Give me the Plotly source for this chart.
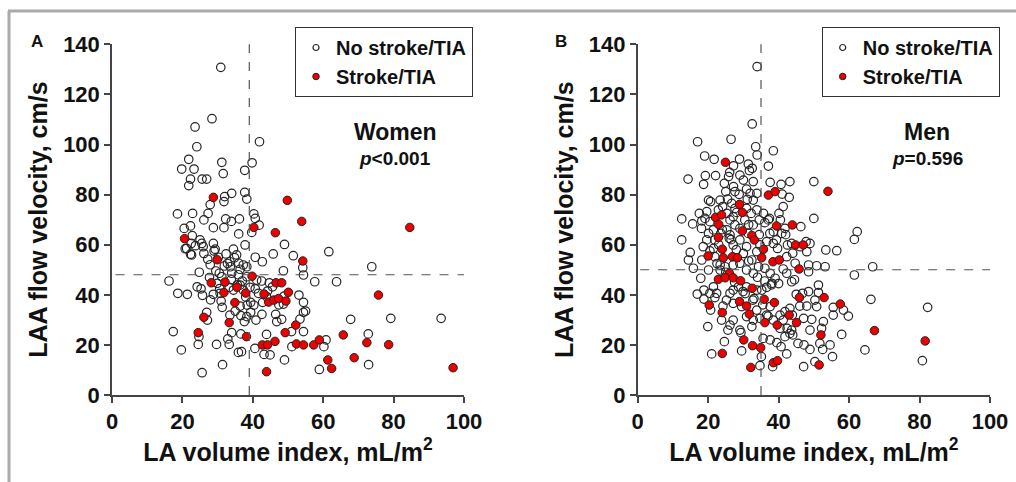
import plotly.graph_objects as go

# ---------------- Data ----------------
# Panel A: Women
women_none_x = [30.9, 28.4, 23.6, 24.1, 41.9, 21.8, 19.8, 23.3, 31.2, 39.8, 31.6, 37.7, 22.3, 21.8, 25.6, 26.9,
                32.0, 34.0, 37.7, 38.3, 31.8, 18.6, 22.9, 27.9, 27.3, 26.1, 32.3, 33.9, 36.2, 40.3, 40.7, 41.8,
                20.5, 22.3, 28.8, 31.8, 36.0, 39.7, 22.8, 25.0, 22.5, 20.8, 22.3, 23.7, 25.9, 28.8, 26.1, 29.3,
                27.2, 32.4, 34.5, 35.4, 37.8, 40.7, 42.7, 45.8, 49.0, 51.5, 61.6, 33.5, 36.0, 37.3, 38.3, 33.6,
                36.4, 30.5, 31.2, 34.0, 38.3, 41.1, 42.5, 44.7, 48.7, 54.2, 54.4, 57.6, 63.8, 73.8, 16.2, 18.7,
                21.4, 24.2, 25.3, 25.7, 27.7, 28.8, 29.9, 30.7, 33.3, 34.5, 36.4, 37.3, 39.2, 40.7, 41.6, 43.9,
                45.6, 53.1, 54.4, 38.0, 39.4, 38.4, 40.3, 31.3, 36.4, 33.5, 36.6, 39.4, 38.3, 42.6, 46.5, 48.7,
                53.4, 54.4, 55.0, 26.9, 27.1, 37.6, 40.9, 46.8, 48.2, 67.8, 79.2, 93.5, 17.4, 24.7, 24.5, 29.7,
                32.9, 33.3, 34.0, 36.6, 43.9, 51.0, 54.4, 51.1, 60.8, 60.2, 72.8, 19.7, 35.9, 36.8, 43.2, 49.0,
                31.4, 72.9, 58.9, 25.6, 40.6, 44.9, 21.2, 22.6, 25.5, 29.0, 30.2, 32.8, 34.8, 35.9, 37.0, 29.5,
                31.9, 33.9, 35.6, 24.8, 27.9, 30.6, 42.8, 44.2, 47.4, 48.9, 28.0, 31.0, 35.0]
women_none_y = [130.8, 110.3, 107.0, 99.1, 101.1, 94.1, 90.2, 90.2, 92.9, 92.7, 88.4, 89.7, 86.2, 83.6, 86.2, 86.2,
                79.2, 80.5, 80.9, 78.2, 77.2, 72.3, 72.5, 76.0, 72.5, 69.9, 70.3, 69.3, 70.3, 72.3, 70.5, 67.8,
                66.5, 67.5, 66.8, 66.8, 64.3, 64.9, 63.6, 61.9, 60.5, 58.4, 56.2, 59.6, 59.2, 60.5, 56.5, 58.2,
                54.2, 56.3, 58.2, 55.9, 59.9, 55.0, 53.2, 56.3, 60.1, 55.6, 57.2, 53.2, 52.6, 51.9, 51.2, 51.2,
                50.2, 48.6, 47.2, 48.6, 47.2, 45.9, 45.5, 44.8, 49.6, 50.8, 47.9, 45.2, 45.2, 51.2, 45.5, 40.6,
                40.2, 43.2, 42.4, 39.8, 46.9, 40.2, 44.6, 40.6, 43.0, 41.9, 43.9, 41.9, 43.0, 42.4, 40.6, 39.3,
                43.2, 39.9, 37.0, 39.1, 37.0, 35.9, 35.9, 35.0, 35.5, 31.9, 31.7, 33.0, 31.3, 32.2, 32.2, 36.3,
                30.3, 33.0, 33.5, 33.0, 29.9, 29.3, 29.9, 29.3, 30.2, 30.2, 30.6, 30.6, 25.3, 23.3, 20.2, 20.2,
                22.4, 20.2, 24.9, 24.4, 24.2, 25.3, 25.3, 19.3, 22.0, 19.3, 24.4, 18.0, 17.0, 17.3, 16.2, 14.0,
                12.1, 12.1, 10.2, 8.9, 18.6, 16.0, 58.5, 55.9, 60.5, 57.5, 55.0, 52.5, 54.8, 48.0, 45.5, 49.5,
                51.5, 46.0, 44.0, 49.0, 52.0, 42.5, 37.0, 41.5, 36.0, 39.5, 38.0, 37.5, 33.5]
women_stroke_x = [28.8, 49.8, 53.9, 40.3, 46.4, 84.6, 20.6, 29.9, 54.2, 39.8, 28.2, 32.1, 35.5, 46.6, 48.2, 31.8,
                  38.0, 43.2, 50.1, 75.7, 34.9, 44.5, 46.0, 47.3, 49.4, 26.1, 33.3, 52.2, 24.5, 49.2, 38.2, 65.7,
                  42.7, 44.2, 46.3, 52.4, 54.4, 57.3, 58.9, 72.4, 78.6, 61.3, 62.4, 68.8, 43.9, 96.9]
women_stroke_y = [78.9, 77.7, 69.3, 66.9, 64.8, 66.9, 62.4, 54.0, 53.5, 47.4, 44.8, 45.1, 43.0, 44.8, 44.8, 40.9,
                  40.7, 40.3, 41.0, 39.9, 36.9, 37.1, 37.9, 38.5, 37.5, 31.0, 28.9, 27.9, 24.9, 24.9, 23.3, 24.0,
                  20.0, 20.0, 21.4, 20.4, 20.0, 20.0, 22.0, 20.9, 20.1, 14.0, 10.6, 14.9, 9.3, 10.9]

# Panel B: Men
men_none_x = [33.9, 32.5, 17.0, 26.5, 33.5, 33.9, 38.5, 19.0, 21.7, 27.2, 28.9, 31.4, 32.5, 31.7, 37.1, 26.1,
              25.8, 22.1, 19.2, 14.3, 18.7, 24.6, 27.2, 25.0, 27.6, 30.9, 31.9, 37.6, 40.7, 43.2, 50.0, 41.0,
              43.0, 25.5, 28.8, 20.1, 20.7, 19.6, 26.7, 31.1, 28.1, 32.2, 41.3, 12.5, 15.6, 18.2, 20.5, 18.1,
              20.1, 26.2, 27.6, 34.5, 36.1, 37.4, 40.5, 41.8, 46.3, 50.0, 62.3, 61.5, 12.5, 14.9, 14.4, 15.8,
              17.9, 16.9, 18.8, 20.5, 18.8, 21.9, 20.7, 19.9, 24.2, 23.8, 26.2, 25.6, 24.6, 21.0, 29.3, 29.5,
              32.4, 35.6, 35.1, 34.7, 38.3, 37.6, 39.5, 40.7, 42.3, 41.8, 44.0, 43.7, 45.5, 47.2, 48.9, 47.1,
              50.3, 51.7, 52.5, 54.6, 55.3, 57.9, 64.5, 80.8, 82.3, 66.2, 59.8, 58.4, 55.5, 55.5, 52.7, 49.4,
              47.1, 48.9, 52.2, 48.0, 50.8, 50.3, 51.3, 51.3, 48.5, 46.8, 45.0, 43.2, 43.9, 41.3, 40.4, 43.2,
              42.4, 66.7, 61.5, 56.5, 53.4, 53.2, 50.8, 48.5, 48.5, 48.0, 48.9, 47.8, 46.1, 43.7, 42.5, 44.0,
              42.3, 44.7, 42.3, 43.7, 41.3, 39.7, 39.4, 37.5, 36.6, 34.7, 33.8, 32.4, 30.9, 29.0, 27.1, 26.2,
              25.3, 23.6, 21.9, 21.5, 21.9, 23.4, 23.4, 24.8, 27.1, 29.0, 30.9, 32.8, 34.3, 36.1, 37.6, 39.0,
              38.1, 36.6, 35.2, 33.8, 30.9, 29.9, 28.6, 27.1, 26.2, 25.2, 27.1, 29.5, 32.7, 33.8, 34.7, 32.8,
              37.6, 36.6, 38.5, 40.4, 41.8, 30.9, 29.0, 27.1, 21.5, 22.4, 20.1, 18.2, 18.6, 19.6, 21.5, 22.9,
              25.3, 27.1, 30.4, 32.8, 31.4, 30.9, 33.8, 35.7, 37.1, 38.5, 40.9, 40.1, 32.8, 30.0, 29.0, 32.8,
              33.8, 23.4, 24.1, 27.6, 17.5, 19.1, 24.0, 26.0, 28.0, 30.0, 31.5, 34.0, 36.0, 38.0, 22.5, 25.0,
              27.5, 30.5, 33.0, 35.5, 37.0, 40.0, 44.5, 46.0, 20.5, 23.0, 26.5, 29.0, 31.5, 34.5, 38.5, 42.0]
men_none_y = [131.1, 108.2, 101.1, 102.1, 99.1, 95.8, 97.5, 95.4, 94.1, 91.5, 94.2, 92.2, 90.5, 89.6, 91.4, 88.9,
              87.2, 87.6, 87.6, 86.2, 84.1, 84.5, 83.2, 81.2, 81.2, 82.2, 80.5, 84.9, 84.1, 85.2, 85.2, 80.2,
              78.9, 78.2, 80.1, 77.8, 77.2, 73.2, 76.5, 78.1, 72.9, 72.5, 75.2, 70.3, 68.3, 69.5, 69.2, 66.5,
              64.5, 69.9, 67.9, 69.9, 68.8, 70.5, 69.9, 66.5, 67.2, 70.5, 65.2, 62.1, 61.9, 56.9, 53.9, 50.6,
              46.6, 40.3, 41.9, 40.6, 38.3, 38.9, 33.9, 27.3, 35.5, 29.9, 27.9, 25.9, 21.3, 16.4, 24.9, 17.6,
              27.3, 22.6, 15.3, 11.7, 11.3, 22.0, 20.9, 19.3, 16.4, 23.3, 24.0, 25.9, 20.6, 20.0, 18.2, 11.3,
              13.3, 20.6, 18.2, 20.0, 15.3, 24.2, 18.0, 13.7, 35.0, 38.2, 31.5, 33.9, 35.0, 31.9, 29.3, 30.2,
              30.6, 25.9, 26.6, 35.5, 35.3, 37.9, 40.9, 43.9, 41.3, 40.6, 40.2, 34.6, 31.9, 29.9, 26.6, 24.6,
              26.6, 51.2, 47.9, 57.6, 57.9, 51.2, 51.6, 51.9, 49.2, 57.2, 60.5, 61.2, 59.2, 60.5, 59.9, 56.6,
              55.2, 52.6, 48.6, 45.2, 50.3, 58.5, 61.9, 64.5, 61.2, 59.9, 57.2, 53.9, 59.2, 61.9, 59.9, 63.9,
              65.9, 64.5, 61.9, 58.5, 55.2, 51.9, 49.9, 51.2, 51.9, 52.6, 49.9, 48.6, 51.2, 50.6, 48.6, 46.6,
              44.6, 43.0, 41.9, 41.9, 43.2, 41.3, 43.2, 41.9, 40.6, 37.9, 36.6, 35.3, 37.9, 33.9, 30.6, 29.9,
              35.3, 31.9, 29.9, 31.9, 33.3, 31.3, 25.9, 29.9, 43.2, 40.6, 49.9, 53.9, 59.2, 61.9, 65.9, 73.9,
              72.5, 71.2, 69.9, 67.9, 64.5, 74.5, 73.9, 72.5, 69.9, 65.2, 64.5, 72.5, 85.2, 85.8, 87.8, 77.8,
              80.5, 77.8, 75.2, 74.5, 72.5, 70.5, 66.0, 62.5, 58.0, 56.5, 53.5, 47.0, 45.5, 44.0, 52.5, 49.0,
              45.0, 40.5, 38.5, 36.0, 31.5, 44.5, 46.0, 35.5, 57.5, 60.0, 62.0, 66.5, 68.0, 64.0, 60.5, 64.0]
men_stroke_x = [24.9, 37.1, 39.0, 54.0, 28.9, 29.7, 22.1, 23.8, 23.0, 39.4, 43.9, 29.7, 32.4, 33.1, 22.9, 44.8,
                47.0, 35.7, 24.0, 20.0, 24.3, 26.9, 28.3, 35.2, 38.4, 40.2, 45.8, 26.0, 22.9, 24.8, 27.1, 29.2,
                32.5, 35.9, 38.8, 45.9, 52.9, 57.5, 20.3, 28.9, 30.9, 31.7, 24.0, 43.0, 36.1, 39.6, 45.1, 67.2,
                52.0, 30.1, 32.6, 34.9, 24.0, 81.6, 38.5, 39.7, 32.1, 51.5]
men_stroke_y = [92.9, 79.8, 81.2, 81.3, 76.1, 72.9, 70.9, 71.9, 68.1, 67.5, 67.9, 65.5, 63.7, 61.9, 62.9, 59.9,
                59.9, 58.2, 58.2, 55.5, 54.8, 55.2, 54.8, 54.8, 53.2, 53.9, 50.3, 48.6, 46.2, 46.8, 46.8, 45.6,
                42.6, 38.2, 36.9, 38.9, 38.9, 36.3, 35.9, 37.3, 35.5, 32.3, 32.9, 31.9, 28.9, 27.9, 28.9, 25.7,
                24.0, 22.0, 19.7, 18.9, 16.6, 21.6, 12.9, 13.7, 11.0, 12.0]

# Cut-off lines
women_cut_x, women_cut_y = 39.0, 48.0
men_cut_x, men_cut_y = 35.0, 50.0

x_ticks = [0, 20, 40, 60, 80, 100]
y_ticks = [0, 20, 40, 60, 80, 100, 120, 140]
legend_labels = ["No stroke/TIA", "Stroke/TIA"]

# ---------------- Styling ----------------
FONT = "Liberation Sans, Arial, Helvetica, sans-serif"
OPEN_COLOR = "#262626"
RED = "#ee0000"
AXIS_COLOR = "#444444"

fig = go.Figure()


def add_panel(xa, ya, nx, ny, sx, sy, legend):
    fig.add_trace(go.Scatter(x=nx, y=ny, mode="markers", xaxis=xa, yaxis=ya, showlegend=False,
                             marker=dict(symbol="circle-open", size=8.5, color=OPEN_COLOR,
                                         line=dict(width=1.2))))
    fig.add_trace(go.Scatter(x=sx, y=sy, mode="markers", xaxis=xa, yaxis=ya, showlegend=False,
                             marker=dict(symbol="circle", size=8.5, color=RED,
                                         line=dict(width=1, color="#222222"))))
    # legend entries (smaller markers as in the reference)
    fig.add_trace(go.Scatter(x=[None], y=[None], mode="markers", xaxis=xa, yaxis=ya,
                             name=legend_labels[0], legend=legend,
                             marker=dict(symbol="circle-open", size=6, color=OPEN_COLOR,
                                         line=dict(width=1.2))))
    fig.add_trace(go.Scatter(x=[None], y=[None], mode="markers", xaxis=xa, yaxis=ya,
                             name=legend_labels[1], legend=legend,
                             marker=dict(symbol="circle", size=6.5, color=RED,
                                         line=dict(width=1, color="#222222"))))


add_panel("x", "y", women_none_x, women_none_y, women_stroke_x, women_stroke_y, "legend")
add_panel("x2", "y2", men_none_x, men_none_y, men_stroke_x, men_stroke_y, "legend2")

axis_common = dict(
    showline=True, linecolor=AXIS_COLOR, linewidth=1.5,
    ticks="outside", ticklen=6, tickwidth=1.5, tickcolor=AXIS_COLOR,
    showgrid=False, zeroline=False, automargin=False,
    tickfont=dict(family=FONT, size=22, color="#111111", weight="bold"),
)
xtitle = dict(text="LA volume index, mL/m<sup>2</sup>",
              font=dict(family=FONT, size=25, color="#111111", weight="bold"), standoff=10)
ytitle = dict(text="LAA flow velocity, cm/s",
              font=dict(family=FONT, size=25, color="#111111", weight="bold"), standoff=8)

legend_style = dict(xanchor="left", yanchor="top", y=1 - 27 / 482,
                    bordercolor="#333333", borderwidth=1, bgcolor="white",
                    font=dict(family=FONT, size=20, color="#111111", weight="bold"),
                    itemwidth=30, tracegroupgap=0)

ydom = [1 - 395 / 482, 1 - 44.3 / 482]
fig.update_layout(
    width=1016, height=482,
    margin=dict(l=0, r=0, t=0, b=0, pad=0, autoexpand=False),
    paper_bgcolor="white", plot_bgcolor="white",
    font=dict(family=FONT, color="#111111"),
    xaxis=dict(domain=[112 / 1016, 464 / 1016], range=[0, 100], tickvals=x_ticks, anchor="y",
               title=xtitle, **axis_common),
    yaxis=dict(domain=ydom, range=[0, 140], tickvals=y_ticks, anchor="x", title=ytitle, **axis_common),
    xaxis2=dict(domain=[637.7 / 1016, 990 / 1016], range=[0, 100], tickvals=x_ticks, anchor="y2",
                title=xtitle, **axis_common),
    yaxis2=dict(domain=ydom, range=[0, 140], tickvals=y_ticks, anchor="x2", title=ytitle, **axis_common),
    legend=dict(x=295 / 1016, **legend_style),
    legend2=dict(x=821.7 / 1016, **legend_style),
)

dash = dict(color="#555555", width=1.2, dash="dash")
shapes = [
    dict(type="line", xref="x", yref="y", x0=women_cut_x, x1=women_cut_x, y0=0, y1=140.5, line=dash),
    dict(type="line", xref="x", yref="y", x0=1, x1=100.3, y0=women_cut_y, y1=women_cut_y, line=dash),
    dict(type="line", xref="x2", yref="y2", x0=men_cut_x, x1=men_cut_x, y0=0, y1=140.5, line=dash),
    dict(type="line", xref="x2", yref="y2", x0=0.7, x1=100.5, y0=men_cut_y, y1=men_cut_y, line=dash),
    # gray frame (top and left)
    dict(type="line", xref="paper", yref="paper", x0=8 / 1016, x1=1, y0=1 - 11 / 482, y1=1 - 11 / 482,
         line=dict(color="#aaaaaa", width=3), layer="above"),
    dict(type="line", xref="paper", yref="paper", x0=9 / 1016, x1=9 / 1016, y0=0, y1=1 - 11 / 482,
         line=dict(color="#aaaaaa", width=3), layer="above"),
]
fig.update_layout(shapes=shapes)

ann_font_big = dict(family=FONT, size=23, color="#111111", weight="bold")
ann_font_p = dict(family=FONT, size=19, color="#111111", weight="bold")
ann = [
    dict(text="A", x=37 / 1016, y=1 - 41 / 482, font=dict(family=FONT, size=17, color="#111111", weight="bold")),
    dict(text="B", x=561 / 1016, y=1 - 41 / 482, font=dict(family=FONT, size=17, color="#111111", weight="bold")),
    dict(text="Women", x=395 / 1016, y=1 - 132 / 482, font=ann_font_big),
    dict(text="<i>p</i>&lt;0.001", x=395 / 1016, y=1 - 159 / 482, font=ann_font_p),
    dict(text="Men", x=927 / 1016, y=1 - 132 / 482, font=ann_font_big),
    dict(text="<i>p</i>=0.596", x=927 / 1016, y=1 - 159 / 482, font=ann_font_p),
]
for a in ann:
    a.update(xref="paper", yref="paper", showarrow=False, xanchor="center", yanchor="middle")
fig.update_layout(annotations=ann)

fig.write_html("out.html", config={"displayModeBar": False},
               post_script="document.body.style.margin='0';")
